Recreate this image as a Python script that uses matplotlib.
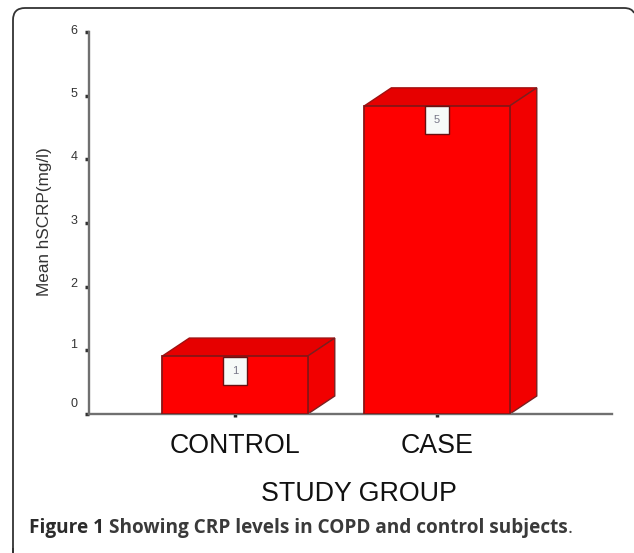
import matplotlib
matplotlib.use("Agg")
import matplotlib.pyplot as plt
from matplotlib.patches import Polygon
from matplotlib.path import Path
from matplotlib.patches import PathPatch

plt.rcParams['font.family'] = ['Liberation Sans', 'DejaVu Sans']

groups = ["CONTROL", "CASE"]
means = [0.91, 4.84]
bar_labels = ["1", "5"]
y_ticks = [0, 1, 2, 3, 4, 5, 6]
# the tick labels in the picture drift upward from their ticks, in pixels
y_label_shift = [10, 5, 3, 2, 2, 2, 1]

W, H = 634, 553
fig = plt.figure(figsize=(W / 100, H / 100), dpi=100)
ax = fig.add_axes([89 / W, 1 - 414 / H, (612 - 89) / W, (414 - 32) / H])
ax.set_xlim(-0.723, 1.866)
ax.set_ylim(0, 6)

bar_w = 0.72
# 3d look of the bars
dx = 27 / (523 / 2.589)
dy = 18 / (382 / 6)

for i in range(len(groups)):
    l = i - bar_w / 2
    r = i + bar_w / 2
    t = means[i]
    ax.add_patch(Polygon([(l, 0), (r, 0), (r, t), (l, t)], facecolor="#fe0000",
                         edgecolor="#8a1414", lw=1.3, zorder=3))
    ax.add_patch(Polygon([(l, t), (r, t), (r + dx, t + dy), (l + dx, t + dy)],
                         facecolor="#e60000", edgecolor="#a01010", lw=1, zorder=2))
    ax.add_patch(Polygon([(r, 0), (r + dx, dy), (r + dx, t + dy), (r, t)],
                         facecolor="#f20000", edgecolor="#7a2020", lw=1, zorder=2))
    ax.annotate(bar_labels[i], (i, t), xytext=(0, -15 if i == 0 else -14),
                textcoords="offset pixels", ha="center", va="center", fontsize=8,
                color="#777788", zorder=5,
                bbox=dict(boxstyle="square,pad=0.8", fc="#f6faf8", ec="#6a1010", lw=1))

for s in ["top", "right"]:
    ax.spines[s].set_visible(False)
for s in ["left", "bottom"]:
    ax.spines[s].set_color("#707070")
    ax.spines[s].set_linewidth(1.7)
ax.set_facecolor("none")

ax.set_yticks(y_ticks)
ax.set_yticklabels([])
ax.tick_params(axis="y", length=3, width=2.5, color="#333333")
for v, sh in zip(y_ticks, y_label_shift):
    ax.annotate(str(v), (0, v), xycoords=("axes fraction", "data"), xytext=(-15, sh),
                textcoords="offset pixels", ha="center", va="center", fontsize=9,
                color="#333333")

ax.set_xticks(range(len(groups)))
ax.set_xticklabels(groups, fontsize=19.3, color="#111111")
ax.tick_params(axis="x", length=2.5, width=2.5, color="#222222", pad=11)

fig.text(358.5 / W, 1 - 494 / H, "STUDY GROUP", fontsize=19.3, ha="center", va="center",
         color="#111111")
fig.text(45 / W, 1 - 222 / H, "Mean hSCRP(mg/l)", fontsize=12.3, rotation=90,
         ha="center", va="center", color="#333333")

# rounded frame of the figure panel, open at the bottom right
verts = [(13, 548), (13, 553), (13, 20), (13, 8), (25, 8), (624, 8), (632, 8), (634, 13)]
codes = [Path.MOVETO, Path.LINETO, Path.LINETO, Path.CURVE3, Path.CURVE3, Path.LINETO,
         Path.CURVE3, Path.CURVE3]
verts = [(x / W, 1 - y / H) for x, y in verts]
fig.add_artist(PathPatch(Path(verts, codes), transform=fig.transFigure, fc="none",
                         ec="#333333", lw=1.3))

cap_y = 1 - 528 / H
cap_font = ["Open Sans", "DejaVu Sans"]
t1 = fig.text(29 / W, cap_y, "Figure 1", fontsize=13.7, fontweight="bold",
              family=cap_font, color="#2b2b2b", va="center")
fig.canvas.draw()
x = t1.get_window_extent().x1 + 5
t2 = fig.text(x / W, cap_y, "Showing CRP levels in COPD and control subjects", fontsize=13.7,
              fontweight="bold", family=cap_font, color="#3a3a3a", va="center")
x = t2.get_window_extent().x1
fig.text(x / W, cap_y, ".", fontsize=13.7, family=cap_font, color="#444444", va="center")

fig.savefig("out.png", dpi=100)
